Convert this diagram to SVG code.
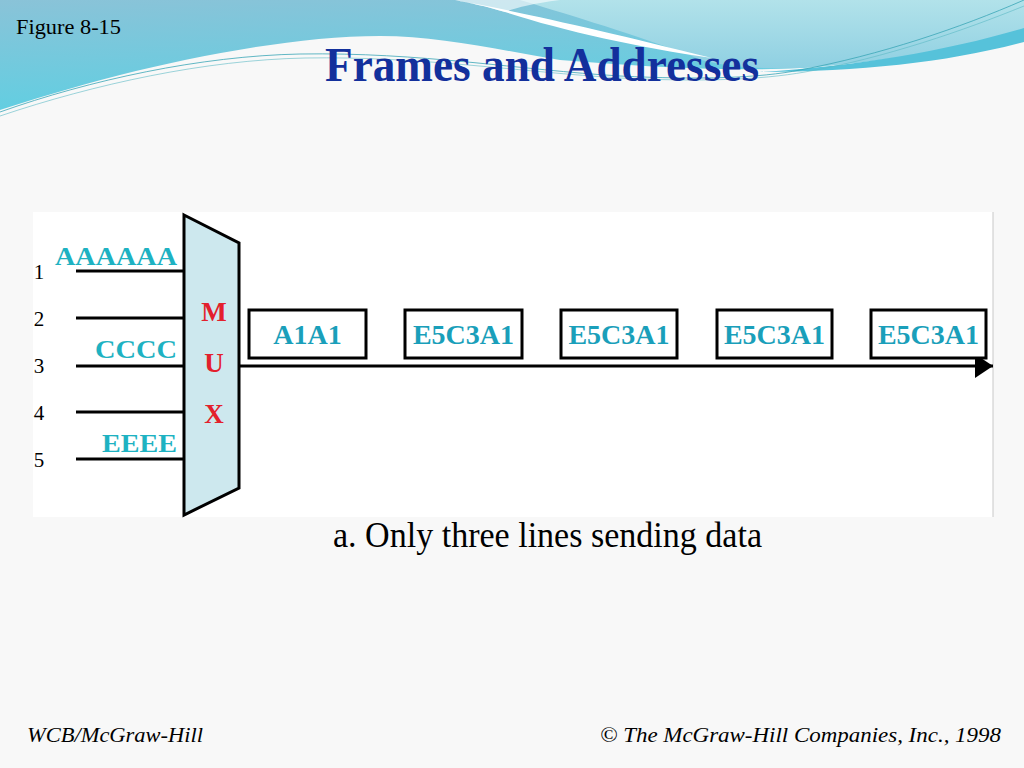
<svg xmlns="http://www.w3.org/2000/svg" width="1024" height="768" viewBox="0 0 1024 768">
<defs>
<linearGradient id="gl" x1="0" y1="0" x2="0.3" y2="1">
<stop offset="0" stop-color="#8ac3d8"/>
<stop offset="1" stop-color="#5fcfe2"/>
</linearGradient>
<linearGradient id="gr" x1="0" y1="0" x2="0" y2="1">
<stop offset="0" stop-color="#b2e2ea"/>
<stop offset="1" stop-color="#8fd0e2"/>
</linearGradient>
<marker id="arrow" markerUnits="userSpaceOnUse" markerWidth="20" markerHeight="26" refX="18" refY="12" orient="auto">
<path d="M0,0 L18,12 L0,24 Z" fill="#000"/>
</marker>
<style>
.num{font-family:"Liberation Serif",serif;font-size:21px;fill:#000;text-anchor:middle}
.lab{font-family:"Liberation Serif",serif;font-weight:bold;font-size:26px;fill:#1eb2c2;text-anchor:end}
.mux{font-family:"Liberation Serif",serif;font-weight:bold;font-size:27px;fill:#e3202c;text-anchor:middle}
.frm rect{fill:#fff;stroke:#000;stroke-width:3}
.frm text{font-family:"Liberation Serif",serif;font-weight:bold;font-size:28px;fill:#1a9fba;text-anchor:middle}
.line{stroke:#000;stroke-width:3;fill:none}
.foot{font-family:"Liberation Serif",serif;font-style:italic;font-size:20px;fill:#000}
</style>
</defs>
<rect x="0" y="0" width="1024" height="768" fill="#f8f8f8"/>
<!-- header waves -->
<path d="M0,0 L1024,0 L1024,33 C960,48 880,62 800,68 C720,72 640,66 560,60 C500,50 440,36 380,36 C300,36 200,55 120,75 C70,88 30,100 0,110 Z" fill="url(#gl)"/>
<path d="M520,0 L1024,0 L1024,33 C960,48 880,62 800,68 C740,70 700,62 690,55 C620,30 560,12 520,0 Z" fill="url(#gr)"/>
<path d="M760,72 C860,66 950,50 1024,28 L1024,42 C950,62 860,72 760,72 Z" fill="#56c2da"/>
<path d="M455,0 C520,12 600,30 712,58 C640,48 560,30 505,12 C485,6 470,3 455,0 Z" fill="#ffffff"/>
<path d="M455,0 L560,0 C530,4 515,8 505,12 C485,6 470,3 455,0 Z" fill="#ffffff" opacity="0.6"/>
<path d="M0,112 C90,80 200,56 300,54 C420,52 520,70 620,76 C700,80 760,78 800,70 C880,55 960,28 1024,0" fill="none" stroke="#3aa6b6" stroke-width="0.8"/>
<path d="M0,116 C95,84 205,60 305,58 C420,56 520,72 620,78 C700,82 760,80 805,72 C885,58 965,30 1024,6" fill="none" stroke="#5ab8c4" stroke-width="0.6"/>
<text x="16" y="34" font-family="Liberation Serif, serif" font-size="21" fill="#000" textLength="105" lengthAdjust="spacingAndGlyphs">Figure 8-15</text>
<text x="325" y="81" font-family="Liberation Serif, serif" font-weight="bold" font-size="49" fill="#13309c" textLength="434" lengthAdjust="spacingAndGlyphs">Frames and Addresses</text>
<!-- diagram area -->
<rect x="33" y="212" width="960" height="305" fill="#ffffff"/>
<line x1="993" y1="212" x2="993" y2="517" stroke="#c8c8c8" stroke-width="1"/>
<g id="connectors">
<line class="line" x1="76" y1="271" x2="184" y2="271"/>
<line class="line" x1="76" y1="318" x2="184" y2="318"/>
<line class="line" x1="76" y1="366" x2="184" y2="366"/>
<line class="line" x1="76" y1="412" x2="184" y2="412"/>
<line class="line" x1="76" y1="459" x2="184" y2="459"/>
<line class="line" x1="239" y1="366" x2="993" y2="366" marker-end="url(#arrow)"/>
</g>
<g id="inputs">
<text class="num" x="39" y="279">1</text>
<text class="num" x="39" y="326">2</text>
<text class="num" x="39" y="373">3</text>
<text class="num" x="39" y="420">4</text>
<text class="num" x="39" y="467">5</text>
<text class="lab" x="177" y="265" textLength="122" lengthAdjust="spacingAndGlyphs">AAAAAA</text>
<text class="lab" x="177" y="358" textLength="82" lengthAdjust="spacingAndGlyphs">CCCC</text>
<text class="lab" x="177" y="452" textLength="75" lengthAdjust="spacingAndGlyphs">EEEE</text>
</g>
<g id="mux">
<polygon points="184,215 239,243 239,488 184,515" fill="#cde8ee" stroke="#000" stroke-width="3" stroke-linejoin="miter"/>
<text class="mux" x="214" y="321">M</text>
<text class="mux" x="214" y="372">U</text>
<text class="mux" x="214" y="423">X</text>
</g>
<g id="frame1" class="frm"><rect x="249" y="310" width="117" height="48"/><text x="307.5" y="344">A1A1</text></g>
<g id="frame2" class="frm"><rect x="405" y="310" width="117" height="48"/><text x="463.5" y="344">E5C3A1</text></g>
<g id="frame3" class="frm"><rect x="561" y="310" width="116" height="48"/><text x="619" y="344">E5C3A1</text></g>
<g id="frame4" class="frm"><rect x="717" y="310" width="115" height="48"/><text x="774.5" y="344">E5C3A1</text></g>
<g id="frame5" class="frm"><rect x="871" y="310" width="115" height="48"/><text x="928.5" y="344">E5C3A1</text></g>
<text x="333" y="547" font-family="Liberation Serif, serif" font-size="35" fill="#000" textLength="429" lengthAdjust="spacingAndGlyphs">a. Only three lines sending data</text>
<text class="foot" x="27" y="742" textLength="176" lengthAdjust="spacingAndGlyphs">WCB/McGraw-Hill</text>
<text class="foot" x="600" y="742" textLength="401" lengthAdjust="spacingAndGlyphs">© The McGraw-Hill Companies, Inc., 1998</text>
</svg>
